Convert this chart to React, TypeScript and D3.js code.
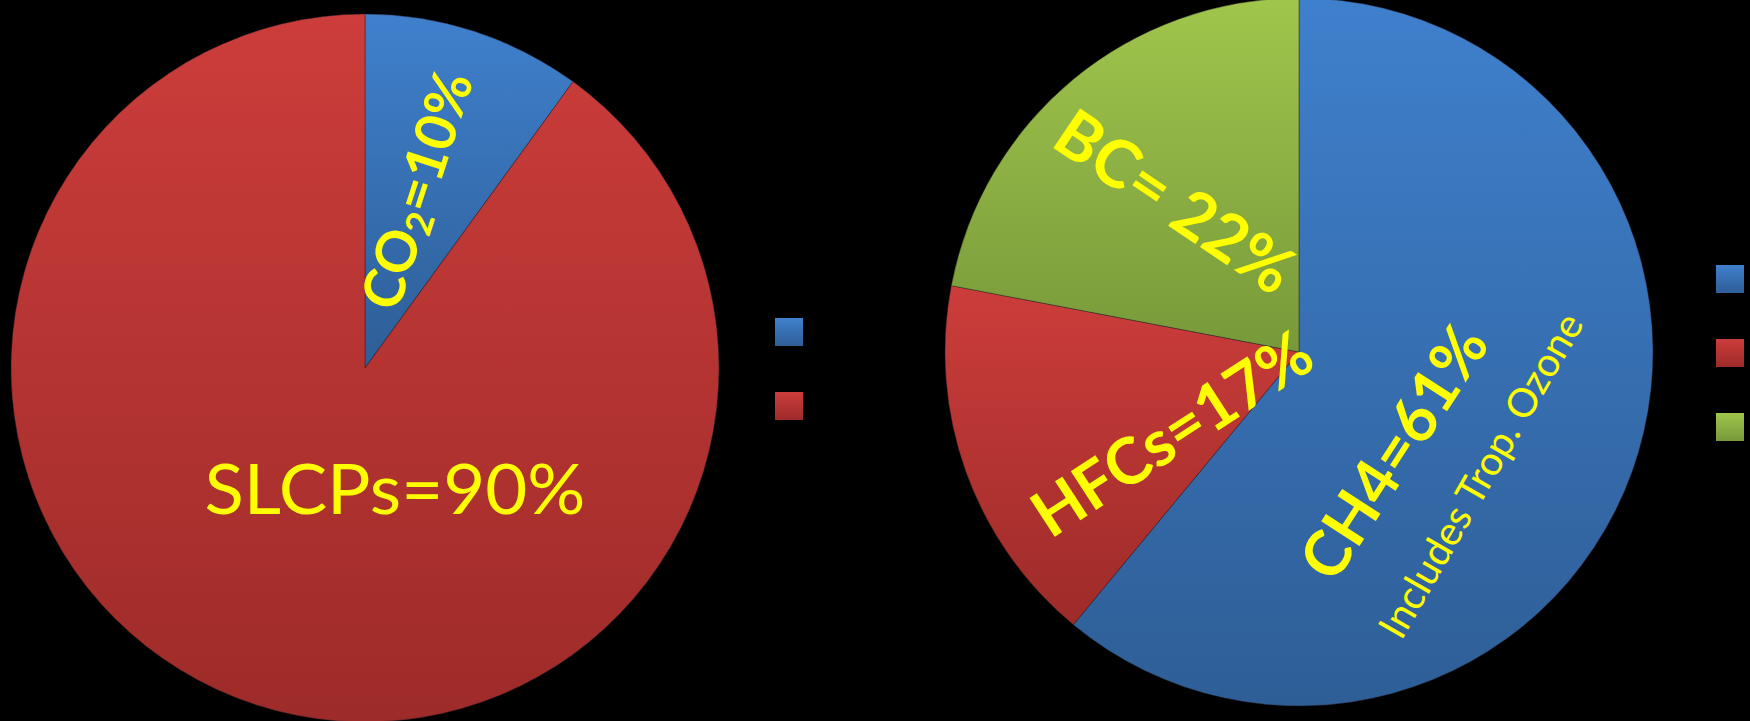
import React from 'react';
import * as d3 from 'd3';

const W = 1750;
const H = 721;

// Left pie: CO2 vs. short-lived climate pollutants
const leftCategories = ['CO2', 'SLCPs'];
const leftValues = [10, 90];

// Right pie: breakdown of SLCPs
const rightCategories = ['CH4', 'HFCs', 'BC'];
const rightValues = [61, 17, 22];
const ch4Note = 'Includes Trop. Ozone';

// gradient top / bottom for each series colour
const blueStops = ['#3F80CD', '#2E5E96'];
const redStops = ['#CC3D3B', '#9D2B29'];
const greenStops = ['#A0C64C', '#77993A'];

const leftFills = ['blue', 'red'];
const rightFills = ['blue', 'red', 'green'];

const FONT = 'Lato, Calibri, "Open Sans", sans-serif';
const YELLOW = '#FFFF00';

type Slice = { name: string; value: number; fill: string };

function PieGroup({ data, cx, cy, r }: { data: Slice[]; cx: number; cy: number; r: number }) {
  const pie = d3.pie<Slice>().sort(null).value((d) => d.value);
  const arc = d3.arc<d3.PieArcDatum<Slice>>().innerRadius(0).outerRadius(r);
  return (
    <g transform={`translate(${cx},${cy})`}>
      {pie(data).map((a) => (
        <path
          key={a.data.name}
          d={arc(a) || ''}
          fill={`url(#grad-${a.data.fill})`}
          stroke="rgba(40,30,40,0.55)"
          strokeWidth={0.8}
        />
      ))}
    </g>
  );
}

function Legend({ fills, x, y0, step, size }: { fills: string[]; x: number; y0: number; step: number; size: number }) {
  return (
    <g>
      {fills.map((f, i) => (
        <rect key={i} x={x} y={y0 + i * step} width={size} height={size} fill={`url(#grad-${f})`} />
      ))}
    </g>
  );
}

export default function App() {
  const left = leftCategories.map((name, i) => ({ name, value: leftValues[i], fill: leftFills[i] }));
  const right = rightCategories.map((name, i) => ({ name, value: rightValues[i], fill: rightFills[i] }));

  const L = { cx: 365, cy: 368, r: 354 };
  const R = { cx: 1299, cy: 352, r: 354 };

  // CO2 label runs radially along the middle of its slice
  const leftArcs = d3.pie<Slice>().sort(null).value((d) => d.value)(left);
  const co2 = leftArcs[0];
  const co2Mid = (co2.startAngle + co2.endAngle) / 2;
  const co2R = L.r * 0.53;
  const co2X = L.cx + Math.sin(co2Mid) * co2R - 8;
  const co2Y = L.cy - Math.cos(co2Mid) * co2R;
  const co2Rot = (co2Mid * 180) / Math.PI - 90;

  const grads: [string, string[]][] = [
    ['blue', blueStops],
    ['red', redStops],
    ['green', greenStops],
  ];

  return (
    <svg width={W} height={H} style={{ position: 'absolute', left: 0, top: 0, display: 'block' }}>
      <defs>
        {grads.map(([id, s]) => (
          <linearGradient key={id} id={`grad-${id}`} x1="0" y1="0" x2="0" y2="1">
            <stop offset="0" stopColor={s[0]} />
            <stop offset="1" stopColor={s[1]} />
          </linearGradient>
        ))}
      </defs>
      <rect x={0} y={0} width={W} height={H} fill="#000" />

      <PieGroup data={left} {...L} />
      <PieGroup data={right} {...R} />

      <Legend fills={leftFills} x={775} y0={318} step={74} size={28} />
      <Legend fills={rightFills} x={1716} y0={265} step={74} size={28} />

      <g fontFamily={FONT} fill={YELLOW}>
        <text
          transform={`translate(${co2X},${co2Y}) rotate(${co2Rot})`}
          textAnchor="middle"
          dominantBaseline="central"
          fontWeight="bold"
          fontSize={56}
        >
          CO<tspan fontSize={37} dy={13}>2</tspan>
          <tspan dy={-13}>={leftValues[0]}%</tspan>
        </text>
        <text
          x={L.cx + 30}
          y={L.cy + 146}
          textAnchor="middle"
          fontSize={70}
          textLength={381}
          lengthAdjust="spacingAndGlyphs"
        >
          {`${leftCategories[1]}=${leftValues[1]}%`}
        </text>

        <text
          transform={`translate(${R.cx + 93},${R.cy + 99}) rotate(-57)`}
          textAnchor="middle"
          dominantBaseline="central"
          fontWeight="bold"
          fontSize={63}
        >
          {`${rightCategories[0]}=${rightValues[0]}%`}
        </text>
        <text
          transform={`translate(${R.cx + 181},${R.cy + 123}) rotate(-60)`}
          textAnchor="middle"
          dominantBaseline="central"
          fontSize={40}
        >
          {ch4Note}
        </text>
        <text
          transform={`translate(${R.cx - 128},${R.cy + 80}) rotate(-33)`}
          textAnchor="middle"
          dominantBaseline="central"
          fontWeight="bold"
          fontSize={64}
        >
          {`${rightCategories[1]}=${rightValues[1]}%`}
        </text>
        <text
          transform={`translate(${R.cx - 123},${R.cy - 152}) rotate(34)`}
          textAnchor="middle"
          dominantBaseline="central"
          fontWeight="bold"
          fontSize={66}
        >
          {`${rightCategories[2]}= ${rightValues[2]}%`}
        </text>
      </g>
    </svg>
  );
}
